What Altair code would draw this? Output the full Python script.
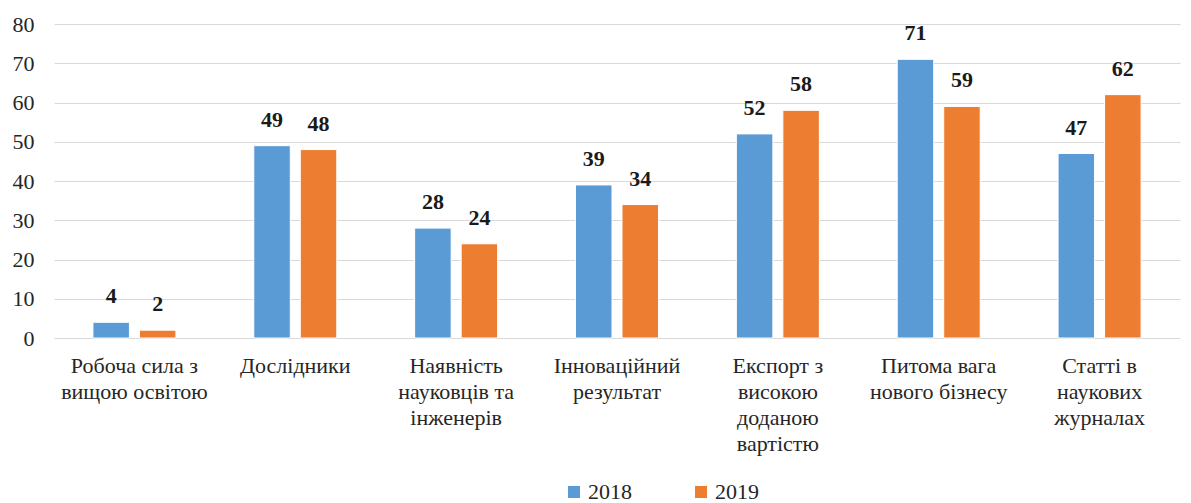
import altair as alt
import pandas as pd

categories = [
    "Робоча сила з|вищою освітою",
    "Дослідники",
    "Наявність|науковців та|інженерів",
    "Інноваційний|результат",
    "Експорт з|високою|доданою|вартістю",
    "Питома вага|нового бізнесу",
    "Статті в|наукових|журналах",
]
years = ["2018", "2019"]
values_2018 = [4, 49, 28, 39, 52, 71, 47]
values_2019 = [2, 48, 24, 34, 58, 59, 62]
colors = ["#5B9BD5", "#ED7D31"]

rows = []
for c, v1, v2 in zip(categories, values_2018, values_2019):
    rows.append({"cat": c, "year": years[0], "value": v1})
    rows.append({"cat": c, "year": years[1], "value": v2})
df = pd.DataFrame(rows)

FONT = "Liberation Serif"
FS = 22

x_axis = alt.Axis(labelAngle=0, labelExpr="split(datum.label, '|')",
                  labelFont=FONT, labelFontSize=FS, labelColor="#262626",
                  labelPadding=17, labelLineHeight=26, ticks=False, domain=False,
                  labelLimit=300, grid=False)
y_axis = alt.Axis(values=list(range(0, 81, 10)), labelOverlap=False,
                  labelFont=FONT, labelFontSize=FS,
                  labelColor="#262626", labelPadding=20, ticks=False, domain=False,
                  grid=True, gridColor="#d9d9d9", gridWidth=1.2)
x_scale = alt.Scale(paddingInner=0.484, paddingOuter=0.242)
y_scale = alt.Scale(domain=[0, 80], nice=False)

x = alt.X("cat:N", sort=categories, title=None, scale=x_scale, axis=x_axis)
y = alt.Y("value:Q", title=None, scale=y_scale, axis=y_axis)
xoff = alt.XOffset("year:N", sort=years,
                   scale=alt.Scale(paddingInner=0.215, paddingOuter=0))

base = alt.Chart(df)

bars = base.mark_bar(stroke="white", strokeWidth=1).encode(
    x=x,
    xOffset=xoff,
    y=y,
    color=alt.Color("year:N", sort=years, title=None,
                    scale=alt.Scale(domain=years, range=colors),
                    legend=alt.Legend(orient="none", direction="horizontal",
                                      legendX=509, legendY=457,
                                      symbolType="square", symbolSize=144,
                                      symbolStrokeWidth=0,
                                      labelFont=FONT, labelFontSize=FS, labelColor="#262626",
                                      columnPadding=58, labelOffset=3)),
)

labels = base.mark_text(font=FONT, fontSize=FS, fontWeight="bold", baseline="bottom",
                        dy=-14, color="#1a1a1a").encode(
    x=x,
    xOffset=xoff,
    y=y,
    text=alt.Text("value:Q"),
)

chart = alt.layer(bars, labels).properties(
    width=1126, height=314,
    autosize=alt.AutoSizeParams(type="none"),
    padding={"left": 46, "top": 16, "right": 3, "bottom": 165},
).configure(font=FONT).configure_view(stroke=None)

chart.save("out.html", embed_options={"renderer": "svg", "actions": False})
